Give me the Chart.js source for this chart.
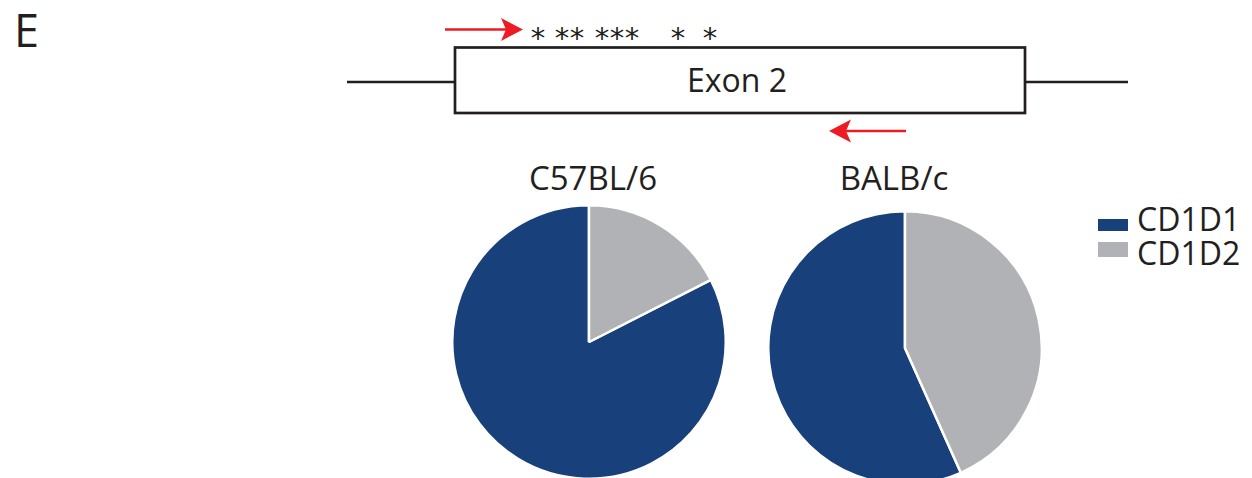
<!DOCTYPE html>
<html>
<head>
<meta charset="utf-8">
<script src="https://cdn.jsdelivr.net/npm/chart.js@4.4.1/dist/chart.umd.min.js"></script>
<style>
  html, body { margin: 0; padding: 0; background: #ffffff; }
  body { width: 1252px; height: 478px; overflow: hidden; position: relative; font-family: "Open Sans", "Liberation Sans", sans-serif; color: #231f20; }
  #diagram { position: absolute; left: 0; top: 0; }
  .pie { position: absolute; width: 276px; height: 276px; }
  .pie canvas { width: 276px; height: 276px; }
</style>
</head>
<body>
<script>
// ---- data ----
const strains = ['C57BL/6', 'BALB/c'];
const alleles = ['CD1D1', 'CD1D2'];
const c57Values = [82.5, 17.5];   // % CD1D1, CD1D2
const balbValues = [56.7, 43.3];  // % CD1D1, CD1D2
const alleleColors = ['#18407a', '#b1b2b5'];
const panelLabel = 'E';
const exonLabel = 'Exon 2';
const snpMarks = [538, 562, 577, 602, 617, 632, 678, 710]; // asterisk x positions along exon
</script>

<svg id="diagram" width="1252" height="478" xmlns="http://www.w3.org/2000/svg"></svg>
<div class="pie" id="pie1wrap" style="left:451px; top:204px;"><canvas id="pie1" width="276" height="276"></canvas></div>
<div class="pie" id="pie2wrap" style="left:767px; top:210px;"><canvas id="pie2" width="276" height="276"></canvas></div>

<script>
const NS = 'http://www.w3.org/2000/svg';
const svg = document.getElementById('diagram');
function el(tag, attrs, text) {
  const e = document.createElementNS(NS, tag);
  for (const k in attrs) e.setAttribute(k, attrs[k]);
  if (text !== undefined) e.textContent = text;
  svg.appendChild(e);
  return e;
}
const ink = '#231f20';
const red = '#ed1c24';

// Panel label
el('text', {x: 14, y: 47, 'font-size': 45, fill: ink, 'font-family': 'Open Sans'}, panelLabel);

// Intron lines and exon box
el('line', {x1: 347, y1: 82, x2: 455, y2: 82, stroke: ink, 'stroke-width': 2.7});
el('line', {x1: 1025, y1: 82, x2: 1128, y2: 82, stroke: ink, 'stroke-width': 2.7});
el('rect', {x: 455, y: 47.5, width: 570, height: 65.5, fill: '#fff', stroke: ink, 'stroke-width': 2.7});
el('text', {x: 737, y: 91.5, 'font-size': 32, fill: ink, 'text-anchor': 'middle', 'font-family': 'Open Sans'}, exonLabel);

// SNP asterisks
snpMarks.forEach(x => {
  el('text', {x: x, y: 48, 'font-size': 29, fill: ink, 'text-anchor': 'middle', 'font-family': 'DejaVu Sans'}, '*');
});

// Primer arrows
el('line', {x1: 445, y1: 29.5, x2: 508, y2: 29.5, stroke: red, 'stroke-width': 2.6});
el('polygon', {points: '523,29.5 501,18 506,29.5 501,41', fill: red});
el('line', {x1: 843, y1: 131, x2: 906, y2: 131, stroke: red, 'stroke-width': 2.6});
el('polygon', {points: '829,131 851,119.5 846,131 851,142.5', fill: red});

// Pie titles
el('text', {x: 593, y: 190, 'font-size': 33, fill: ink, 'text-anchor': 'middle', 'font-family': 'Open Sans'}, strains[0]);
el('text', {x: 894, y: 190, 'font-size': 33, fill: ink, 'text-anchor': 'middle', 'font-family': 'Open Sans'}, strains[1]);

// Legend
const legendRows = [{y: 219, h: 12, ty: 231}, {y: 242, h: 15, ty: 265}];
alleles.forEach((name, i) => {
  el('rect', {x: 1098, y: legendRows[i].y, width: 30, height: legendRows[i].h, fill: alleleColors[i]});
  el('text', {x: 1137, y: legendRows[i].ty, 'font-size': 32, fill: ink, 'font-family': 'Open Sans'}, name);
});

// Pies
function makePie(id, values) {
  const total = values.reduce((a, b) => a + b, 0);
  // CD1D2 slice starts at 12 o'clock and runs clockwise; CD1D1 fills the rest
  const rotation = 360 * values[1] / total;
  return new Chart(document.getElementById(id), {
    type: 'pie',
    data: {
      labels: alleles,
      datasets: [{
        data: values,
        backgroundColor: alleleColors,
        borderColor: '#ffffff',
        borderWidth: 2.5,
        hoverOffset: 0,
        offset: 0
      }]
    },
    options: {
      responsive: false,
      animation: false,
      rotation: rotation,
      layout: { padding: 0 },
      plugins: { legend: { display: false }, tooltip: { enabled: false }, title: { display: false } },
      events: []
    }
  });
}
makePie('pie1', c57Values);
makePie('pie2', balbValues);
</script>
</body>
</html>
